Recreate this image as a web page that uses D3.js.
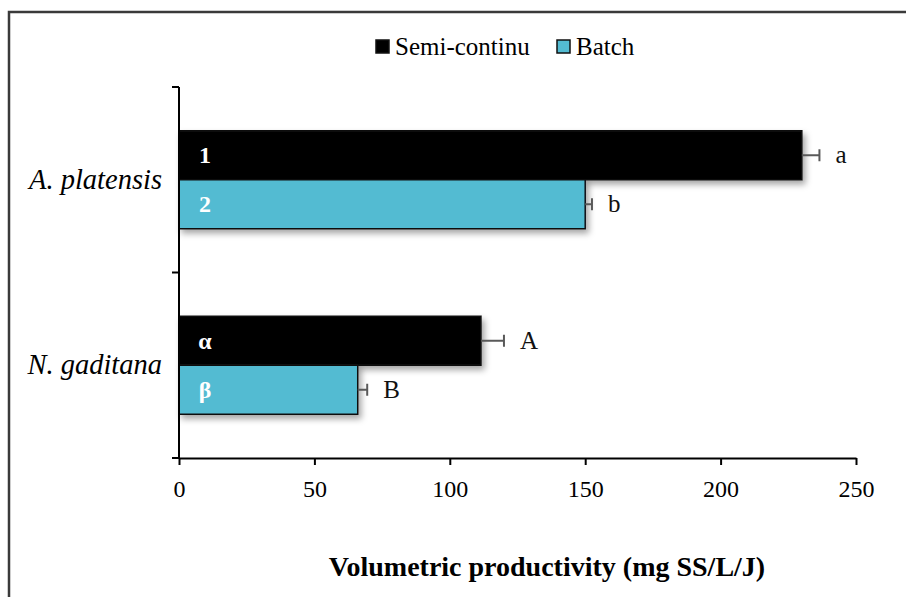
<!DOCTYPE html>
<html>
<head>
<meta charset="utf-8">
<script src="https://cdn.jsdelivr.net/npm/d3@7"></script>
<style>
  body { margin: 0; background: #fff; }
</style>
</head>
<body>
<svg width="906" height="597"></svg>
<script>
// Chart data
const species = ["A. platensis", "N. gaditana"];
const modes = ["Semi-continu", "Batch"];
const semiValues = [230, 111.5];
const semiErrors = [6.5, 8.5];
const batchValues = [150, 66];
const batchErrors = [2.5, 3.5];
const barLabels = [["1", "2"], ["α", "β"]];
const sigLetters = [["a", "b"], ["A", "B"]];
const xTicks = [0, 50, 100, 150, 200, 250];

const colors = { "Semi-continu": "#000000", "Batch": "#53bbd2" };
const serif = "'Liberation Serif', 'Times New Roman', Times, serif";

// Build rows from the arrays
const rows = species.map((s, i) => ({
  species: s,
  bars: [
    { mode: "Semi-continu", value: semiValues[i], err: semiErrors[i], label: barLabels[i][0], sig: sigLetters[i][0] },
    { mode: "Batch", value: batchValues[i], err: batchErrors[i], label: barLabels[i][1], sig: sigLetters[i][1] }
  ]
}));

const svg = d3.select("svg").attr("font-family", serif);

// outer frame (cut off on right and bottom)
svg.append("rect")
  .attr("x", 9).attr("y", 12)
  .attr("width", 1000).attr("height", 1000)
  .attr("fill", "none")
  .attr("stroke", "#3a3a3a")
  .attr("stroke-width", 2.5);

// drop shadow for bars
const defs = svg.append("defs");
defs.append("filter").attr("id", "shadow")
  .attr("x", "-10%").attr("y", "-20%").attr("width", "130%").attr("height", "160%")
  .append("feDropShadow")
  .attr("dx", 3).attr("dy", 4).attr("stdDeviation", 3)
  .attr("flood-color", "#000").attr("flood-opacity", 0.35);

// scales
const x = d3.scaleLinear().domain([0, 250]).range([179, 856]);
const y = d3.scaleBand().domain(species).range([87, 458]).padding(0);
const ySub = d3.scaleBand().domain(modes).range([0, y.bandwidth()]).paddingOuter(0.893).paddingInner(0);

// bars
const groups = svg.append("g").selectAll("g")
  .data(rows)
  .join("g")
  .attr("transform", d => `translate(0,${y(d.species)})`);

groups.selectAll("rect")
  .data(d => d.bars)
  .join("rect")
  .attr("x", x(0))
  .attr("y", d => ySub(d.mode))
  .attr("width", d => x(d.value) - x(0))
  .attr("height", ySub.bandwidth())
  .attr("fill", d => colors[d.mode])
  .attr("stroke", "#111")
  .attr("stroke-width", 1.5)
  .attr("filter", "url(#shadow)");

// error bars (positive side only)
const eb = groups.selectAll("g.err")
  .data(d => d.bars)
  .join("g").attr("class", "err")
  .attr("transform", d => `translate(0,${ySub(d.mode) + ySub.bandwidth() / 2})`);
eb.append("line")
  .attr("x1", d => x(d.value)).attr("x2", d => x(d.value + d.err))
  .attr("stroke", "#595959").attr("stroke-width", 2);
eb.append("line")
  .attr("x1", d => x(d.value + d.err)).attr("x2", d => x(d.value + d.err))
  .attr("y1", -6).attr("y2", 6)
  .attr("stroke", "#595959").attr("stroke-width", 2);

// significance letters
eb.append("text")
  .attr("x", d => x(d.value + d.err) + 16)
  .attr("y", 8)
  .attr("font-family", serif)
  .attr("font-size", 25)
  .attr("fill", "#111")
  .text(d => d.sig);

// bar labels
eb.append("text")
  .attr("x", 205)
  .attr("y", 8)
  .attr("text-anchor", "middle")
  .attr("font-family", serif)
  .attr("font-size", 24)
  .attr("font-weight", "bold")
  .attr("fill", "#fff")
  .text(d => d.label);

// y axis
const yAxisG = svg.append("g");
yAxisG.append("line")
  .attr("x1", 179).attr("x2", 179).attr("y1", 87).attr("y2", 459)
  .attr("stroke", "#000").attr("stroke-width", 2);
const yTickPos = [87, 272.5, 458];
yAxisG.selectAll("line.tick")
  .data(yTickPos)
  .join("line").attr("class", "tick")
  .attr("x1", 172).attr("x2", 179)
  .attr("y1", d => d).attr("y2", d => d)
  .attr("stroke", "#000").attr("stroke-width", 2);
yAxisG.selectAll("text")
  .data(species)
  .join("text")
  .attr("x", 162)
  .attr("y", d => y(d) + y.bandwidth() / 2 + 9)
  .attr("text-anchor", "end")
  .attr("font-family", serif)
  .attr("font-size", 28.5)
  .attr("font-style", "italic")
  .text(d => d);

// x axis
const xAxisG = svg.append("g")
  .attr("transform", "translate(0,458)")
  .call(d3.axisBottom(x).tickValues(xTicks).tickSize(7).tickPadding(15).tickSizeOuter(0))
  .attr("font-family", serif);
xAxisG.select(".domain").attr("stroke", "#000").attr("stroke-width", 2);
xAxisG.selectAll(".tick line").attr("stroke", "#000").attr("stroke-width", 2);
xAxisG.selectAll(".tick text")
  .attr("font-family", serif)
  .attr("font-size", 24)
  .attr("fill", "#000");

// x axis title
svg.append("text")
  .attr("x", 547)
  .attr("y", 576)
  .attr("text-anchor", "middle")
  .attr("font-family", serif)
  .attr("font-size", 28)
  .attr("font-weight", "bold")
  .text("Volumetric productivity (mg SS/L/J)");

// legend
const legendItems = [
  { mode: "Semi-continu", x: 376 },
  { mode: "Batch", x: 557 }
];
const lg = svg.append("g").selectAll("g")
  .data(legendItems)
  .join("g")
  .attr("transform", d => `translate(${d.x},40)`);
lg.append("rect")
  .attr("width", 13).attr("height", 13)
  .attr("fill", d => colors[d.mode])
  .attr("stroke", "#111").attr("stroke-width", 1.5);
lg.append("text")
  .attr("x", 19).attr("y", 15)
  .attr("font-family", serif)
  .attr("font-size", 25)
  .text(d => d.mode);
</script>
</body>
</html>
